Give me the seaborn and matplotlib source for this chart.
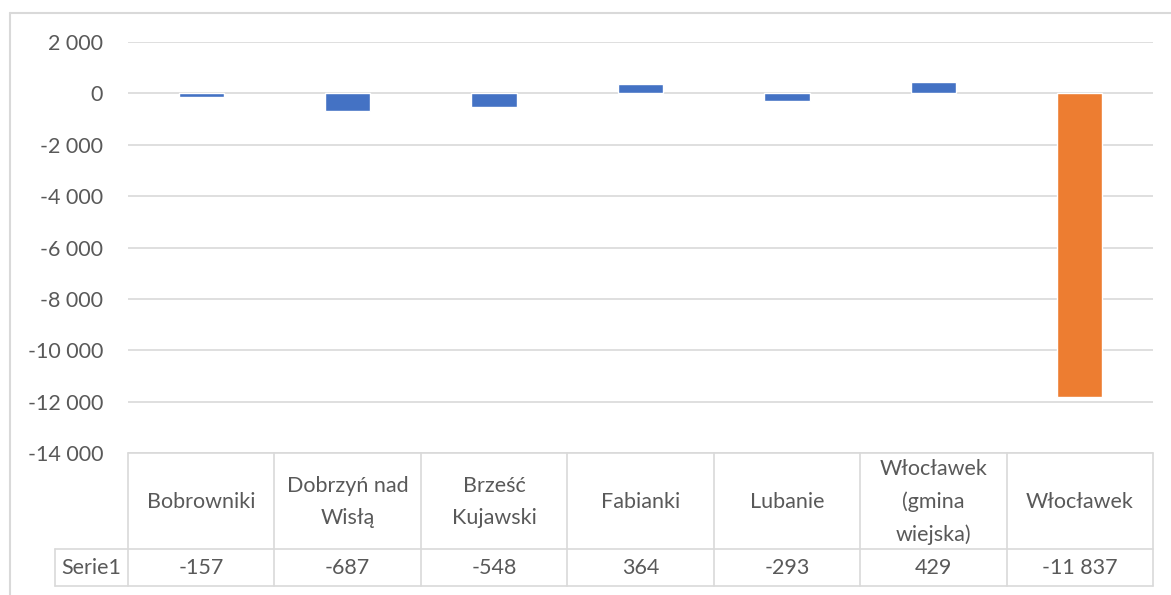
import matplotlib
matplotlib.use("Agg")
import matplotlib.pyplot as plt
from matplotlib.lines import Line2D
import seaborn as sns

# data
categories = ["Bobrowniki", "Dobrzyń nad Wisłą", "Brześć Kujawski", "Fabianki",
              "Lubanie", "Włocławek (gmina wiejska)", "Włocławek"]
header_labels = ["Bobrowniki", "Dobrzyń nad\nWisłą", "Brześć\nKujawski", "Fabianki",
                 "Lubanie", "Włocławek\n(gmina\nwiejska)", "Włocławek"]
values = [-157, -687, -548, 364, -293, 429, -11837]
value_labels = ["-157", "-687", "-548", "364", "-293", "429", "-11 837"]
series_name = "Serie1"
bar_colors = ["#4472C4"] * 6 + ["#ED7D31"]
yticks = list(range(-14000, 2001, 2000))

W, H = 1171, 595
TXT = "#595959"
GRID = "#D9D9D9"
FS = 15.5

sns.set_style("white")
plt.rcParams["font.family"] = ["Lato", "DejaVu Sans"]

fig = plt.figure(figsize=(W / 100, H / 100), dpi=100)

# pixel helpers
x0, x1 = 128, 1153
y_top, y_axis, y_mid, y_bot = 42, 453, 549, 586

ax = fig.add_axes([x0 / W, 1 - y_axis / H, (x1 - x0) / W, (y_axis - y_top) / H])
sns.barplot(x=categories, y=values, hue=categories, palette=bar_colors,
            legend=False, width=0.31, saturation=1, ax=ax, zorder=3)
ax.set_xlim(-0.5, 6.5)
ax.set_ylim(-14000, 2000)
ax.set_yticks(yticks)
ax.set_yticklabels([f"{v:,}".replace(",", " ") for v in yticks])
ax.tick_params(axis="y", length=0, pad=18, labelsize=FS, labelcolor=TXT)
ax.set_xticks([])
ax.set_xlabel("")
ax.set_ylabel("")
for s in ax.spines.values():
    s.set_visible(False)
ax.grid(axis="y", color=GRID, linewidth=1.2, zorder=0)
ax.set_axisbelow(True)

# data table underneath
tb = fig.add_axes([x0 / W, 1 - y_bot / H, (x1 - x0) / W, (y_bot - y_axis) / H])
tb.set_xlim(-0.5, 6.5)
tb.set_ylim(y_bot, y_axis)
tb.axis("off")
lk = dict(color=GRID, linewidth=1.2, clip_on=False)
cell_left = -0.5 - (x0 - 55) / ((x1 - x0) / 7)
tb.plot([-0.5, 6.5], [y_axis, y_axis], **lk)
tb.plot([cell_left, 6.5], [y_mid, y_mid], **lk)
tb.plot([cell_left, 6.5], [y_bot, y_bot], **lk)
tb.plot([cell_left, cell_left], [y_mid, y_bot], **lk)
for i in range(8):
    tb.plot([i - 0.5, i - 0.5], [y_axis, y_bot], **lk)
for i, (lab, val) in enumerate(zip(header_labels, value_labels)):
    tb.text(i, (y_axis + y_mid) / 2 + 1, lab, ha="center", va="center",
            fontsize=FS, color=TXT, linespacing=1.72)
    tb.text(i, (y_mid + y_bot) / 2, val, ha="center", va="center",
            fontsize=FS, color=TXT)
tb.text((cell_left - 0.5) / 2, (y_mid + y_bot) / 2, series_name, ha="center",
        va="center", fontsize=FS, color=TXT)

# chart area border
fig.add_artist(Line2D([10 / W, 10 / W], [0, 1 - 13 / H], color=GRID, linewidth=1.5))
fig.add_artist(Line2D([10 / W, 1], [1 - 13 / H, 1 - 13 / H], color=GRID, linewidth=1.5))

fig.savefig("out.png", dpi=100, facecolor="white")
